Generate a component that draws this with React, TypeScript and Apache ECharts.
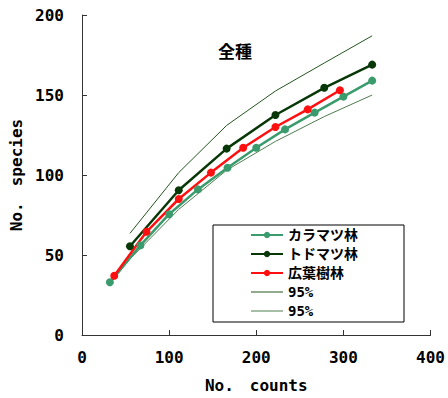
import React, { useEffect, useRef } from "react";
import * as echarts from "echarts";

const seriesNames = ["カラマツ林", "トドマツ林", "広葉樹林", "95%", "95% "];
const karamatsuX = [32, 67, 100, 133, 167, 200, 233, 267, 300, 333];
const karamatsuY = [33, 56, 75.5, 91, 104.5, 117, 128.5, 139, 149, 159];
const todomatsuX = [55, 111, 166, 222, 278, 333];
const todomatsuY = [55.5, 90.5, 116.5, 137.5, 154.5, 169];
const koyoX = [37, 74, 111, 148, 185, 222, 259, 296];
const koyoY = [37, 64.5, 85, 101.5, 117, 130, 141, 153];
const upperX = [55, 111, 166, 222, 278, 333];
const upperY = [63.5, 101.5, 131, 152.5, 170, 187];
const lowerX = [32, 55, 111, 166, 222, 278, 333];
const lowerY = [32, 47.5, 78.5, 103, 121, 136.5, 150];
const xTicks = [0, 100, 200, 300, 400];
const yTicks = [0, 50, 100, 150, 200];

const colors = ["#3a9b6c", "#083808", "#ff1010", "#24561f", "#4f7d4f"];
const FONT = "'DejaVu Sans Mono', 'Noto Sans CJK JP', monospace";
const THIN_ICON = "path://M0,0H32V1H0Z";

function pairs(xs: number[], ys: number[]) {
  return xs.map((x, i) => [x, ys[i]]);
}

export default function App() {
  const ref = useRef<HTMLDivElement>(null);
  useEffect(() => {
    if (!ref.current) return;
    const chart = echarts.init(ref.current, null, { renderer: "svg" });
    const mk = (i: number, xs: number[], ys: number[], marker: boolean) => ({
      name: seriesNames[i],
      type: "line",
      data: pairs(xs, ys),
      symbol: marker ? "circle" : "none",
      symbolSize: 8,
      showSymbol: marker,
      lineStyle: { color: colors[i], width: marker ? 2.5 : 1 },
      itemStyle: { color: colors[i] },
      z: marker ? 3 : 2,
    });
    chart.setOption({
      animation: false,
      grid: { left: 82, right: 16, top: 15, bottom: 63 },
      title: {
        text: "全種",
        left: 230,
        top: 37,
        textAlign: "center",
        textStyle: { fontFamily: "'Noto Sans CJK JP'", fontWeight: "bold", fontSize: 17, color: "#000" },
      },
      xAxis: {
        type: "value",
        min: 0,
        max: 400,
        interval: 100,
        name: "No.　counts",
        nameLocation: "middle",
        nameGap: 42,
        nameTextStyle: { fontFamily: FONT, fontWeight: "bold", fontSize: 16, color: "#000" },
        axisLine: { lineStyle: { color: "#333", width: 1 } },
        axisTick: { inside: true, length: 5, lineStyle: { color: "#333" } },
        axisLabel: {
          margin: 14,
          fontFamily: FONT,
          fontWeight: "bold",
          fontSize: 16,
          color: "#000",
          formatter: (v: number) => (xTicks.includes(v) ? String(v) : ""),
        },
        splitLine: { show: false },
      },
      yAxis: {
        type: "value",
        min: 0,
        max: 200,
        interval: 50,
        name: "No.　species",
        nameLocation: "middle",
        nameRotate: 90,
        nameGap: 54,
        nameTextStyle: { fontFamily: FONT, fontWeight: "bold", fontSize: 16, color: "#000" },
        axisLine: { show: true, lineStyle: { color: "#333", width: 1 } },
        axisTick: { show: true, inside: true, length: 5, lineStyle: { color: "#333" } },
        axisLabel: {
          margin: 18,
          fontFamily: FONT,
          fontWeight: "bold",
          fontSize: 16,
          color: "#000",
          formatter: (v: number) => (yTicks.includes(v) ? String(v) : ""),
        },
        splitLine: { show: false },
      },
      graphic: [
        {
          type: "rect",
          z: 10,
          shape: { x: 213, y: 225, width: 191, height: 97 },
          style: { fill: "#fff", stroke: "#000", lineWidth: 1 },
        },
      ],
      legend: {
        orient: "vertical",
        left: 250,
        top: 228,
        z: 20,
        itemWidth: 32,
        itemHeight: 8,
        itemGap: 5,
        padding: 0,
        data: [
          { name: seriesNames[0] },
          { name: seriesNames[1] },
          { name: seriesNames[2] },
          { name: seriesNames[3], icon: THIN_ICON },
          { name: seriesNames[4], icon: THIN_ICON },
        ],
        textStyle: { fontFamily: FONT, fontWeight: "bold", fontSize: 14, lineHeight: 14, color: "#000" },
      },
      series: [
        mk(0, karamatsuX, karamatsuY, true),
        mk(1, todomatsuX, todomatsuY, true),
        mk(2, koyoX, koyoY, true),
        mk(3, upperX, upperY, false),
        mk(4, lowerX, lowerY, false),
      ],
    });
    return () => chart.dispose();
  }, []);
  return <div ref={ref} style={{ width: 448, height: 398, position: "absolute", left: 0, top: 0 }} />;
}
